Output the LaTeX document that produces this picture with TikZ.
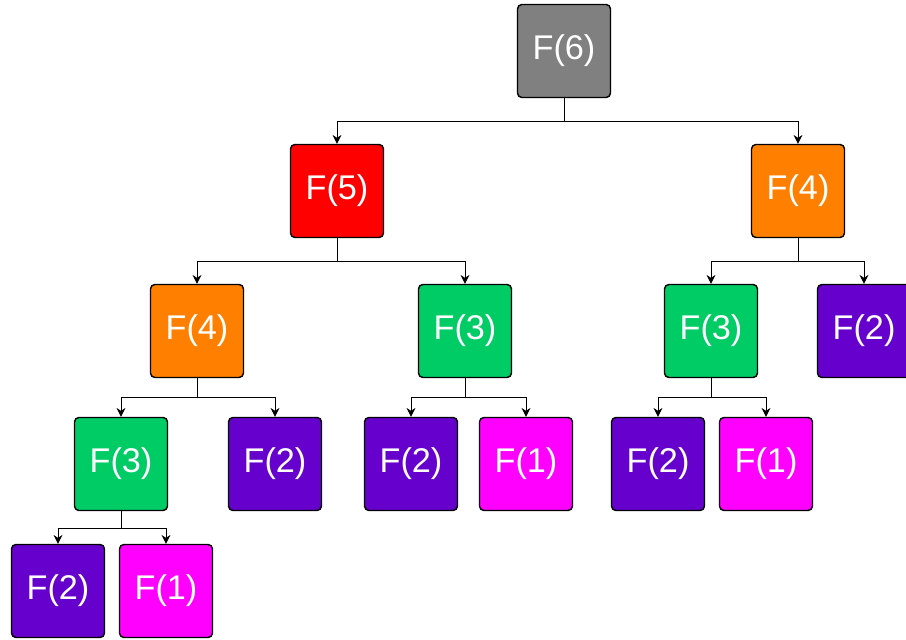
\documentclass[tikz,border=0pt]{standalone}
\usepackage{fontspec}
\setmainfont{Liberation Sans}
\usetikzlibrary{arrows.meta}

\definecolor{fgray}{HTML}{808080}
\definecolor{fred}{HTML}{FF0000}
\definecolor{forange}{HTML}{FF8000}
\definecolor{fgreen}{HTML}{00CC66}
\definecolor{fpurple}{HTML}{6600CC}
\definecolor{fpink}{HTML}{FF00FF}

\tikzset{
  call/.style={rectangle,rounded corners=2.5pt,draw=black,line width=0.8pt,
    minimum size=1.86cm,text=white,font=\fontsize{19.5}{23}\selectfont},
  link/.style={draw=black,line width=0.55pt,-{Stealth[length=5pt,width=5pt]}}
}

\begin{document}
\begin{tikzpicture}
		\useasboundingbox (0,0) rectangle (18.12,-12.8);
		\node(f6) at (11.28,-1.02)[call,fill=fgray]{F(6)};
		\node(f5) at (6.74,-3.82)[call,fill=fred]{F(5)};
		\node(f4b) at (15.96,-3.82)[call,fill=forange]{F(4)};
		\node(f4a) at (3.94,-6.62)[call,fill=forange]{F(4)};
		\node(f3b) at (9.30,-6.62)[call,fill=fgreen]{F(3)};
		\node(f3c) at (14.22,-6.62)[call,fill=fgreen]{F(3)};
		\node(f2d) at (17.28,-6.62)[call,fill=fpurple]{F(2)};
		\node(f3a) at (2.42,-9.28)[call,fill=fgreen]{F(3)};
		\node(f2b) at (5.50,-9.28)[call,fill=fpurple]{F(2)};
		\node(f2c) at (8.22,-9.28)[call,fill=fpurple]{F(2)};
		\node(f1b) at (10.52,-9.28)[call,fill=fpink]{F(1)};
		\node(f2e) at (13.16,-9.28)[call,fill=fpurple]{F(2)};
		\node(f1c) at (15.32,-9.28)[call,fill=fpink]{F(1)};
		\node(f2a) at (1.16,-11.82)[call,fill=fpurple]{F(2)};
		\node(f1a) at (3.32,-11.82)[call,fill=fpink]{F(1)};
		
		\draw[link] (f6.south) -- ++(0,-0.46) -| (f5.north);
		\draw[link] (f6.south) -- ++(0,-0.46) -| (f4b.north);
		\draw[link] (f5.south) -- ++(0,-0.46) -| (f4a.north);
		\draw[link] (f5.south) -- ++(0,-0.46) -| (f3b.north);
		\draw[link] (f4b.south) -- ++(0,-0.46) -| (f3c.north);
		\draw[link] (f4b.south) -- ++(0,-0.46) -| (f2d.north);
		\draw[link] (f4a.south) -- ++(0,-0.39) -| (f3a.north);
		\draw[link] (f4a.south) -- ++(0,-0.39) -| (f2b.north);
		\draw[link] (f3b.south) -- ++(0,-0.39) -| (f2c.north);
		\draw[link] (f3b.south) -- ++(0,-0.39) -| (f1b.north);
		\draw[link] (f3c.south) -- ++(0,-0.39) -| (f2e.north);
		\draw[link] (f3c.south) -- ++(0,-0.39) -| (f1c.north);
		\draw[link] (f3a.south) -- ++(0,-0.34) -| (f2a.north);
		\draw[link] (f3a.south) -- ++(0,-0.34) -| (f1a.north);
	\end{tikzpicture}
\end{document}
